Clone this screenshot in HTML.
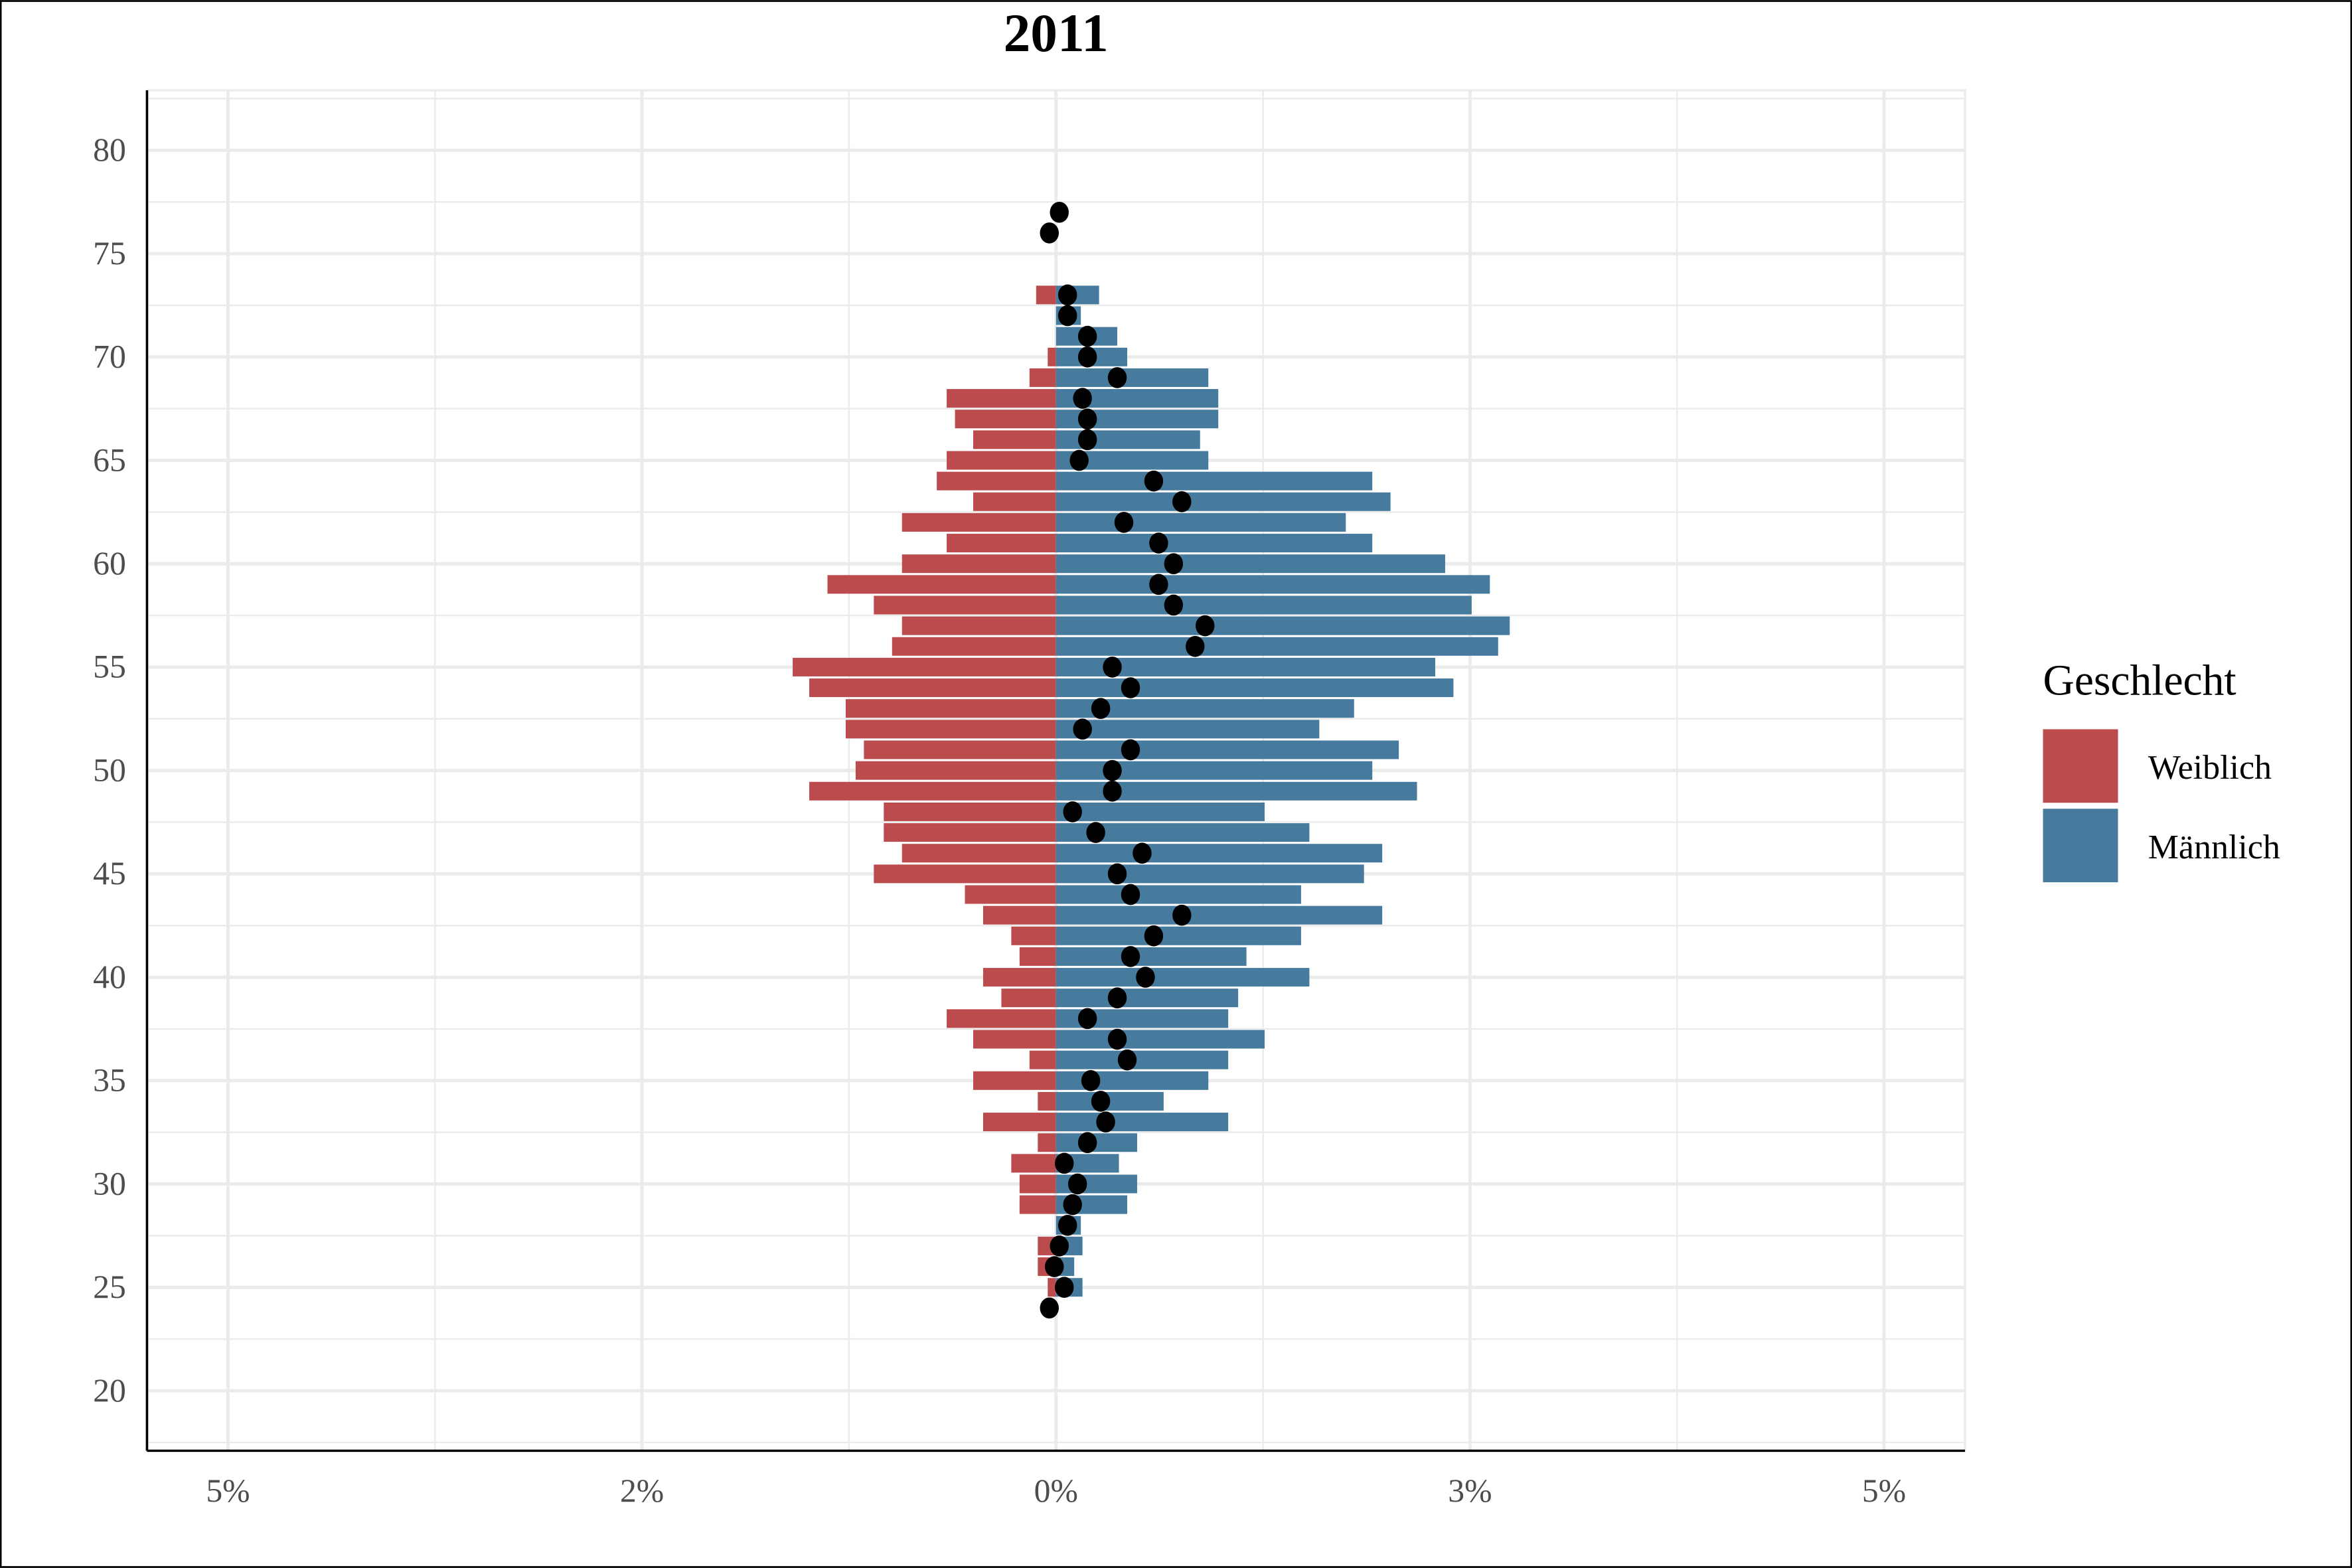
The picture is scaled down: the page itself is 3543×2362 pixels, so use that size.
<!DOCTYPE html>
<html><head><meta charset="utf-8"><style>
html,body{margin:0;padding:0;background:#fff}
svg{display:block}
text{font-family:"Liberation Serif",serif}
</style></head><body>
<svg id="chart" width="3543" height="2362" viewBox="0 0 1568 1045" xmlns="http://www.w3.org/2000/svg">
<rect x="0.5" y="0.5" width="1567" height="1044" fill="#fff" stroke="#000" stroke-width="1.2"/>
<g id="grid"></g>
<g id="bars"></g>
<g id="dots"></g>
<line x1="98" y1="60" x2="98" y2="967" stroke="#000" stroke-width="1.6"/>
<line x1="98" y1="967" x2="1310" y2="967" stroke="#000" stroke-width="1.6"/>
<g id="ylabels"></g>
<g id="xlabels"></g>
<text x="704" y="34" text-anchor="middle" font-size="36" font-weight="bold">2011</text>
<g>
<text x="1362" y="463" font-size="29">Geschlecht</text>
<rect x="1362" y="486" width="50" height="49" fill="#BC4B4E"/>
<text x="1432" y="519" font-size="23">Weiblich</text>
<rect x="1362" y="539" width="50" height="49" fill="#477B9D"/>
<text x="1432" y="572" font-size="23">Männlich</text>
</g>
</svg>
<script>
const ages = [25,26,27,28,29,30,31,32,33,34,35,36,37,38,39,40,41,42,43,44,45,46,47,48,49,50,51,52,53,54,55,56,57,58,59,60,61,62,63,64,65,66,67,68,69,70,71,72,73];
const female = [0.05,0.11,0.11,0,0.22,0.22,0.27,0.11,0.44,0.11,0.5,0.16,0.5,0.66,0.33,0.44,0.22,0.27,0.44,0.55,1.10,0.93,1.04,1.04,1.49,1.21,1.16,1.27,1.27,1.49,1.59,0.99,0.93,1.10,1.38,0.93,0.66,0.93,0.5,0.72,0.66,0.5,0.61,0.66,0.16,0.05,0,0,0.12];
const male = [0.16,0.11,0.16,0.15,0.43,0.49,0.38,0.49,1.04,0.65,0.92,1.04,1.26,1.04,1.10,1.53,1.15,1.48,1.97,1.48,1.86,1.97,1.53,1.26,2.18,1.91,2.07,1.59,1.80,2.40,2.29,2.67,2.74,2.51,2.62,2.35,1.91,1.75,2.02,1.91,0.92,0.87,0.98,0.98,0.92,0.43,0.37,0.15,0.26];
const dotAges = [24,25,26,27,28,29,30,31,32,33,34,35,36,37,38,39,40,41,42,43,44,45,46,47,48,49,50,51,52,53,54,55,56,57,58,59,60,61,62,63,64,65,66,67,68,69,70,71,72,73,76,77];
const dotValues = [-0.04,0.05,-0.01,0.02,0.07,0.10,0.13,0.05,0.19,0.30,0.27,0.21,0.43,0.37,0.19,0.37,0.54,0.45,0.59,0.76,0.45,0.37,0.52,0.24,0.10,0.34,0.34,0.45,0.16,0.27,0.45,0.34,0.84,0.90,0.71,0.62,0.71,0.62,0.41,0.76,0.59,0.14,0.19,0.19,0.16,0.37,0.19,0.19,0.07,0.07,-0.04,0.02];
const xTickValues = [-5,-2.5,0,2.5,5];
const xTickLabels = ["5%","2%","0%","3%","5%"];
const yTickValues = [20,25,30,35,40,45,50,55,60,65,70,75,80];

const NS="http://www.w3.org/2000/svg";
function X(v){return 704+v*110.4;}
function Y(a){return 100+(80-a)*13.783;}
function mk(tag,attrs,parent){const e=document.createElementNS(NS,tag);for(const k in attrs)e.setAttribute(k,attrs[k]);parent.appendChild(e);return e;}
const grid=document.getElementById('grid');
for(let v=-5;v<=5.01;v+=1.25){
  const major=Math.abs(v/2.5-Math.round(v/2.5))<1e-6;
  const l=mk('line',{x1:X(v),x2:X(v),y1:60,y2:967,stroke:'#ebebeb','stroke-width':major?2.2:1.1},grid);
  
  
}
for(let a=17.5;a<=82.5;a+=2.5){
  const major=a%5===0;
  const l=mk('line',{x1:98,x2:1310,y1:Y(a),y2:Y(a),stroke:'#ebebeb','stroke-width':major?2.2:1.1},grid);
  
  
}
mk('rect',{x:98,y:60,width:1212,height:907,fill:'none',stroke:'#ebebeb','stroke-width':1.5},grid);
const bars=document.getElementById('bars');
const bh=12.4;
ages.forEach((a,i)=>{
  if(female[i]>0){
    const r=mk('rect',{x:X(-female[i]),y:Y(a)-bh/2,width:X(0)-X(-female[i]),height:bh,fill:'#BC4B4E'},bars);
    
    
  }
  if(male[i]>0){
    const r=mk('rect',{x:X(0),y:Y(a)-bh/2,width:X(male[i])-X(0),height:bh,fill:'#477B9D'},bars);
    
    
  }
});
const dots=document.getElementById('dots');
dotAges.forEach((a,i)=>{
  const c=mk('ellipse',{cx:X(dotValues[i]),cy:Y(a),rx:6.3,ry:7,fill:'#000'},dots);
  
  
});
const yl=document.getElementById('ylabels');
yTickValues.forEach(v=>{
  const t=mk('text',{x:84,y:Y(v)+7,'text-anchor':'end','font-size':22,fill:'#4d4d4d'},yl);
  t.textContent=v;
  
  
});
const xl=document.getElementById('xlabels');
xTickValues.forEach((v,i)=>{
  const t=mk('text',{x:X(v),y:1001,'text-anchor':'middle','font-size':22,fill:'#4d4d4d'},xl);
  t.textContent=xTickLabels[i];
  
  
});
</script>
</body></html>
